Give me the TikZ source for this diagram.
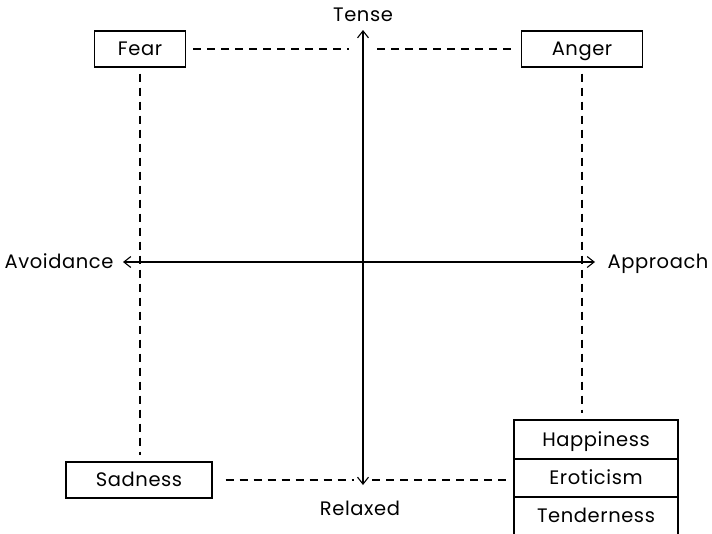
\documentclass[tikz,border=0pt]{standalone}
\usepackage{fontspec}
\setmainfont[LetterSpace=3]{Poppins}
\usepackage{tikz}
\usetikzlibrary{arrows.meta}

\begin{document}
\begin{tikzpicture}[x=1pt, y=-1pt, line width=1.1pt,
		>={Straight Barb[length=7pt,width=11pt]},
		lbl/.style={font=\fontsize{19.5}{23}\selectfont, inner sep=2pt, text height=14pt, text depth=1pt},
		emo/.style={lbl, draw, minimum height=36pt, inner sep=0pt},
		dsh/.style={dash pattern=on 8pt off 6pt}]
		\useasboundingbox (0,0) rectangle (712,533);

		% axes
		\node[lbl] (tense) at (363,15) {Tense};
		\node[lbl] (relaxed) at (360,509) {Relaxed};
		\node[lbl] (avoid) at (59,262) {Avoidance};
		\node[lbl] (appr) at (658,262) {Approach};
		\coordinate (vt) at (363,30);
		\coordinate (vb) at (363,485);
		\coordinate (hl) at (123,262);
		\coordinate (hr) at (595,262);
		\draw[<->] (vb) -- (vt);
		\draw[<->] (hl) -- (hr);

		% emotions
		\node[emo, minimum width=91pt] (fear) at (140,49) {Fear};
		\node[emo, minimum width=121pt] (anger) at (582,49) {Anger};
		\node[emo, minimum width=146pt] (sad) at (139,480) {Sadness};
		\node[emo, minimum width=164pt, minimum height=39pt] (happy) at (596,439.5) {Happiness};
		\node[emo, minimum width=164pt, minimum height=38pt] (erot) at (596,478) {Eroticism};
		\node[emo, minimum width=164pt, minimum height=38pt] (tender) at (596,516) {Tenderness};

		% dashed links
		\draw[dsh] ([xshift=7pt]fear.east) -- ([xshift=-14pt]fear.east -| vt);
		\draw[dsh] ([xshift=14pt]anger.west -| vt) -- ([xshift=-6pt]anger.west);
		\draw[dsh, shorten <=6pt, shorten >=6pt] (fear.south) -- (fear.south |- sad.north);
		\draw[dsh, shorten <=6pt, shorten >=6pt] (anger.south) -- (anger.south |- happy.north);
		\draw[dsh] ([xshift=13pt]sad.east) -- ([xshift=-9pt]sad.east -| vb);
		\draw[dsh] ([xshift=9pt]sad.east -| vb) -- ([xshift=-7pt]sad.east -| erot.west);
	\end{tikzpicture}
\end{document}
